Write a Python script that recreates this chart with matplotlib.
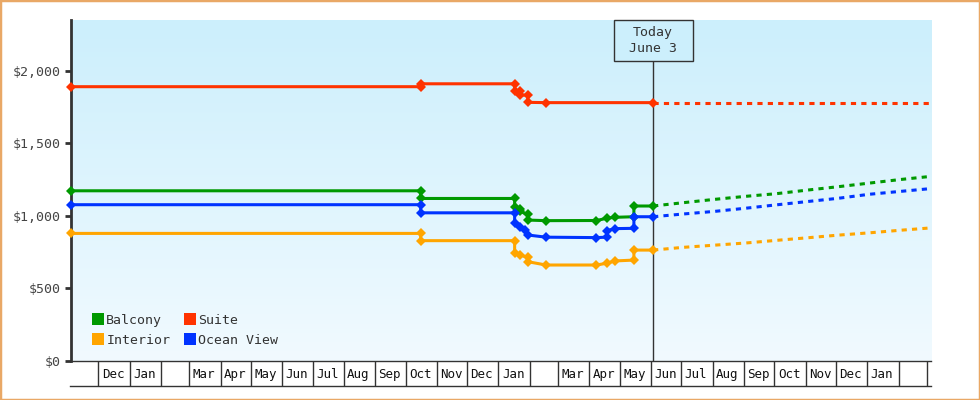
import datetime as dt
import numpy as np
import matplotlib
matplotlib.use("Agg")
import matplotlib.pyplot as plt
import matplotlib.dates as mdates
import matplotlib.transforms as mtransforms
from matplotlib.lines import Line2D
from matplotlib.patches import Rectangle
from matplotlib.ticker import FuncFormatter, FixedLocator

plt.rcParams["font.family"] = ["DejaVu Sans Mono"]

INK = "#333333"
GREEN = "#009900"
ORANGE = "#ffa500"
RED = "#ff3300"
BLUE = "#0033ff"
BORDER = "#e9a866"


def d(s):
    return dt.datetime.strptime(s, "%Y-%m-%d")


# price history (each change date shows old and new price)
balcony_dates = ["2016-11-04", "2017-10-16", "2017-10-16", "2018-01-17", "2018-01-17",
                 "2018-01-22", "2018-01-22", "2018-01-30", "2018-01-30", "2018-02-17",
                 "2018-04-08", "2018-04-18", "2018-04-26", "2018-05-15", "2018-05-15",
                 "2018-06-03"]
balcony_price = [1172, 1172, 1119, 1119, 1058, 1044, 1030, 1010, 970, 966,
                 967, 982, 989, 993, 1067, 1067]

interior_dates = ["2016-11-04", "2017-10-16", "2017-10-16", "2018-01-17", "2018-01-17",
                  "2018-01-22", "2018-01-30", "2018-01-30", "2018-02-17", "2018-04-08",
                  "2018-04-18", "2018-04-26", "2018-05-15", "2018-05-15", "2018-06-03"]
interior_price = [878, 878, 828, 828, 741, 729, 713, 683, 660, 660,
                  672, 688, 694, 763, 763]

suite_dates = ["2016-11-04", "2017-10-16", "2017-10-16", "2018-01-17", "2018-01-17",
               "2018-01-22", "2018-01-22", "2018-01-30", "2018-01-30", "2018-02-17",
               "2018-06-03"]
suite_price = [1890, 1890, 1910, 1910, 1862, 1860, 1832, 1832, 1782, 1780, 1780]

ocean_dates = ["2016-11-04", "2017-10-16", "2017-10-16", "2018-01-17", "2018-01-17",
               "2018-01-22", "2018-01-27", "2018-01-30", "2018-02-17", "2018-04-08",
               "2018-04-18", "2018-04-18", "2018-04-26", "2018-05-15", "2018-05-15",
               "2018-06-03"]
ocean_price = [1076, 1076, 1020, 1020, 947, 924, 901, 867, 852, 849,
               852, 896, 911, 913, 993, 993]

# forecast after today
forecast_dates = ["2018-06-03", "2018-07-03", "2018-08-03", "2018-09-03", "2018-10-03",
                  "2018-11-03", "2018-12-03", "2019-01-03", "2019-02-03", "2019-03-03"]
balcony_fc = [1067, 1090, 1113, 1134, 1152, 1177, 1200, 1225, 1250, 1270]
interior_fc = [763, 782, 797, 812, 830, 848, 866, 882, 900, 915]
suite_fc = [1780, 1780, 1780, 1780, 1780, 1780, 1780, 1780, 1780, 1780]
ocean_fc = [993, 1012, 1030, 1052, 1075, 1098, 1120, 1148, 1168, 1186]

series = [
    ("Balcony", GREEN, balcony_dates, balcony_price, balcony_fc),
    ("Interior", ORANGE, interior_dates, interior_price, interior_fc),
    ("Suite", RED, suite_dates, suite_price, suite_fc),
    ("Ocean View", BLUE, ocean_dates, ocean_price, ocean_fc),
]

today = d("2018-06-03")
x_start, x_end = d("2016-11-04"), d("2019-03-05")
y_ticks = [0, 500, 1000, 1500, 2000]

fig = plt.figure(figsize=(9.8, 4.0), dpi=100)
fig.patch.set_facecolor("white")
ax = fig.add_axes([71 / 980, 39.3 / 400, 860 / 980, 340.7 / 400])

# gradient background
top = np.array([204, 239, 252]) / 255
bot = np.array([241, 250, 255]) / 255
t = np.linspace(0, 1, 256)[:, None, None]
grad = top * (1 - t) + bot * t
ax.imshow(grad, extent=[0, 1, 0, 1], transform=ax.transAxes, aspect="auto", zorder=0)

box_h = 41 / 340.7
ax.axvline(today, ymin=0, ymax=1 - box_h, color=INK, lw=1, zorder=1)

fc_dates = [d(s) for s in forecast_dates]
for name, color, dates, price, fc in series:
    xs = [d(s) for s in dates]
    ax.plot(fc_dates, fc, color=color, lw=2.2, dashes=(1.7, 1.7), zorder=2)
    ax.plot(xs, price, color=color, lw=2.2, marker="D", markersize=5.5,
            markeredgewidth=0, zorder=3, clip_on=False)

# today box
tnum = mdates.date2num(today)
trans = mtransforms.blended_transform_factory(ax.transData, ax.transAxes)
ax.add_patch(Rectangle((tnum - 39, 1 - box_h), 78, box_h, transform=trans,
                       facecolor=top, edgecolor=INK, lw=1, zorder=4, clip_on=False))
ax.text(tnum, 1 - box_h / 2, "Today\nJune 3", transform=trans, ha="center",
        va="center", fontsize=9.5, color=INK, linespacing=1.3, zorder=5)

ax.set_xlim(x_start, x_end)
ax.set_ylim(0, 2350)

# month cells along the bottom
month_starts = []
m = dt.datetime(2016, 12, 1)
while m <= x_end:
    month_starts.append(m)
    m = dt.datetime(m.year + (m.month == 12), m.month % 12 + 1, 1)
mids = [s + dt.timedelta(days=14.5) for s in month_starts[:-1]]
mid_labels = ["" if s.month == 2 else s.strftime("%b") for s in month_starts[:-1]]

ax.xaxis.set_major_locator(FixedLocator(mdates.date2num(month_starts)))
ax.xaxis.set_major_formatter(FuncFormatter(lambda v, p: ""))
ax.set_xticks(mdates.date2num(mids), mid_labels, minor=True)
ax.tick_params(axis="x", which="major", direction="out", length=18, width=1, color=INK)
ax.tick_params(axis="x", which="minor", length=0, pad=5, labelsize=9, labelcolor="#111111")
ax.add_line(Line2D([-1 / 860, 1], [-25 / 340.7] * 2, transform=ax.transAxes,
                   color=INK, lw=1, clip_on=False))

ax.set_yticks(y_ticks)
ax.yaxis.set_major_formatter(FuncFormatter(lambda v, p: f"${v:,.0f}"))
ax.tick_params(axis="y", direction="out", length=4.5, width=2, color=INK,
               labelsize=9.5, labelcolor="#444444", pad=3)

for s in ["top", "right"]:
    ax.spines[s].set_visible(False)
ax.spines["left"].set_color(INK)
ax.spines["left"].set_linewidth(2)
ax.spines["left"].set_zorder(2.5)
ax.spines["bottom"].set_color(INK)
ax.spines["bottom"].set_linewidth(1)

handles = [Line2D([], [], marker="s", ls="none", color=c, markersize=8,
                  markeredgewidth=0) for _, c, _, _, _ in series]
leg = ax.legend(handles, [n for n, _, _, _, _ in series], ncol=2, loc="lower left",
                bbox_to_anchor=(0.018, 0.022), frameon=False, fontsize=9.5,
                handlelength=0.8, handletextpad=0.2, columnspacing=1.1,
                labelspacing=0.5, borderpad=0)
for txt in leg.get_texts():
    txt.set_color(INK)

fig.patches.append(Rectangle((0, 0), 1, 1, transform=fig.transFigure, fill=False,
                             edgecolor=BORDER, lw=2.5))

fig.savefig("out.png", dpi=100)
